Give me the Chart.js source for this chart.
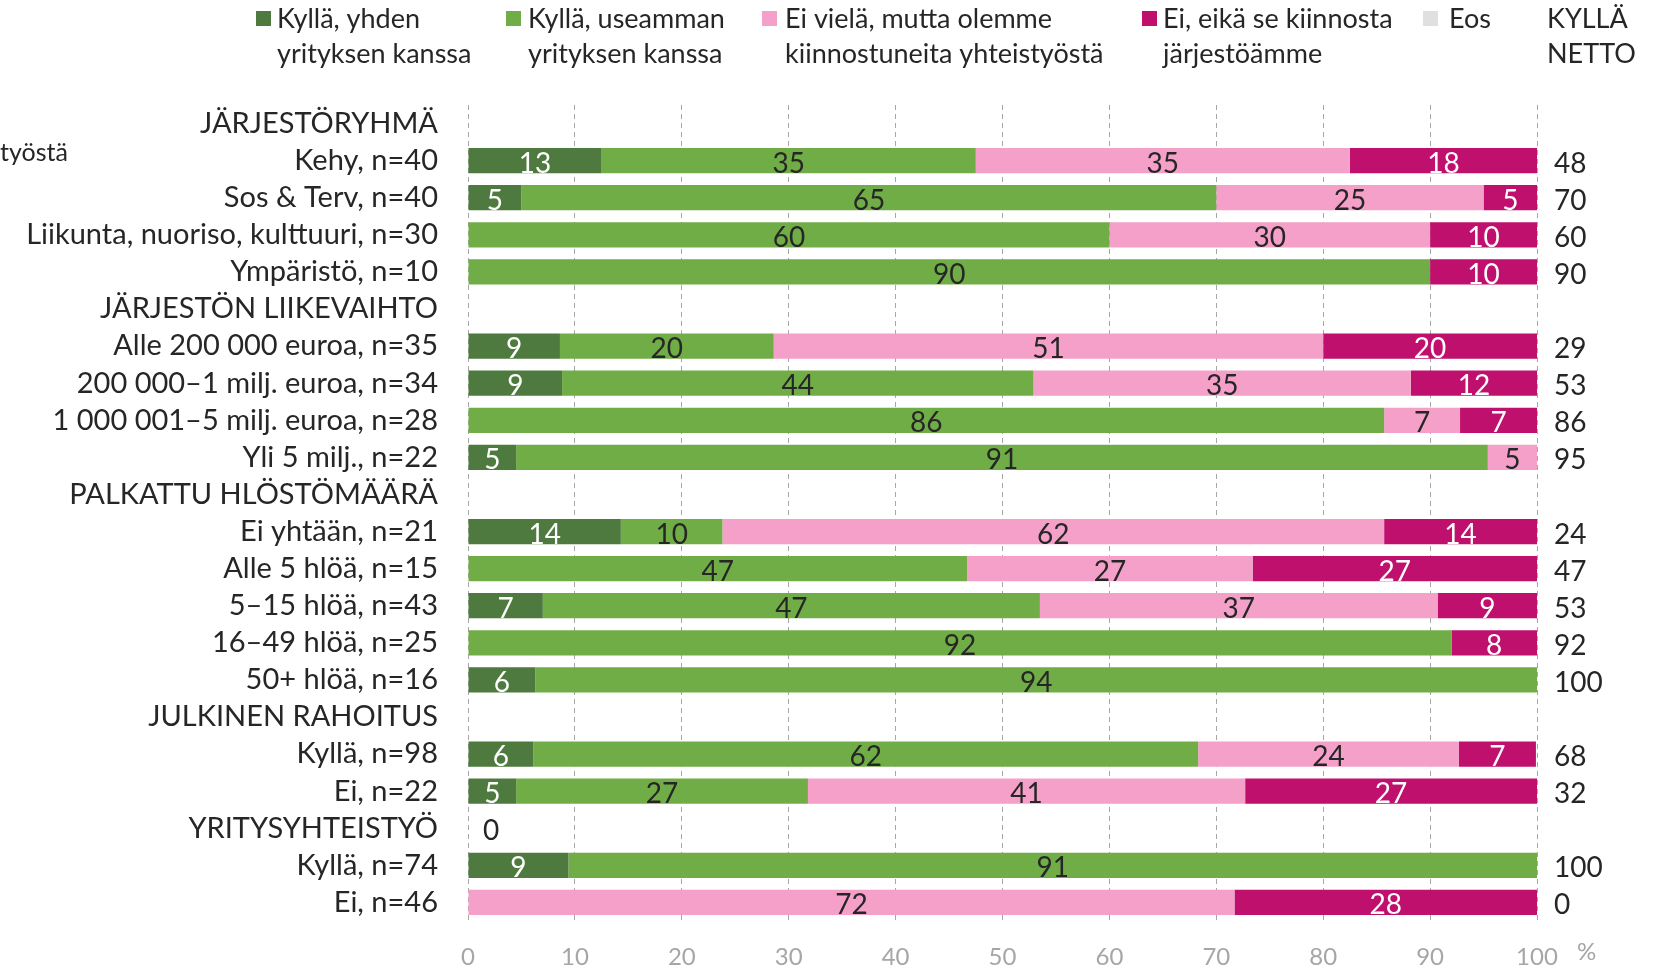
<!DOCTYPE html>
<html>
<head>
<meta charset="utf-8">
<script src="https://cdn.jsdelivr.net/npm/chart.js@4.4.1/dist/chart.umd.min.js"></script>
<style>
  html, body { margin: 0; padding: 0; background: #fff; }
  #wrap { width: 1653px; height: 970px; }
</style>
</head>
<body>
<div id="wrap"><canvas id="chart" width="1653" height="970"></canvas></div>
<script>
const categories = [
  'JÄRJESTÖRYHMÄ', 'Kehy, n=40', 'Sos & Terv, n=40', 'Liikunta, nuoriso, kulttuuri, n=30', 'Ympäristö, n=10',
  'JÄRJESTÖN LIIKEVAIHTO', 'Alle 200 000 euroa, n=35', '200 000–1 milj. euroa, n=34', '1 000 001–5 milj. euroa, n=28', 'Yli 5 milj., n=22',
  'PALKATTU HLÖSTÖMÄÄRÄ', 'Ei yhtään, n=21', 'Alle 5 hlöä, n=15', '5–15 hlöä, n=43', '16–49 hlöä, n=25', '50+ hlöä, n=16',
  'JULKINEN RAHOITUS', 'Kyllä, n=98', 'Ei, n=22',
  'YRITYSYHTEISTYÖ', 'Kyllä, n=74', 'Ei, n=46'
];
const seriesNames = [
  ['Kyllä, yhden', 'yrityksen kanssa'],
  ['Kyllä, useamman', 'yrityksen kanssa'],
  ['Ei vielä, mutta olemme', 'kiinnostuneita yhteistyöstä'],
  ['Ei, eikä se kiinnosta', 'järjestöämme'],
  ['Eos']
];
const yhden       = [null, 12.5, 5, null, null, null, 8.6, 8.8, null, 4.5, null, 14.3, null, 7.0, null, 6.3, null, 6.1, 4.5, null, 9.4, null];
const useamman    = [null, 35, 65, 60, 90, null, 20, 44.1, 85.7, 90.9, null, 9.5, 46.7, 46.5, 92, 93.7, null, 62.2, 27.3, 0, 90.6, null];
const eiViela     = [null, 35, 25, 30, null, null, 51.4, 35.3, 7.1, 4.6, null, 61.9, 26.7, 37.2, null, null, null, 24.4, 40.9, null, null, 71.7];
const eiKiinnosta = [null, 17.5, 5, 10, 10, null, 20, 11.8, 7.2, null, null, 14.3, 26.6, 9.3, 8, null, null, 7.2, 27.3, null, null, 28.3];
const eos         = [null, null, null, null, null, null, null, null, null, null, null, null, null, null, null, null, null, null, null, null, null, null];
const kyllaNetto  = [null, 48, 70, 60, 90, null, 29, 53, 86, 95, null, 24, 47, 53, 92, 100, null, 68, 32, null, 100, 0];
const xTicks = [0, 10, 20, 30, 40, 50, 60, 70, 80, 90, 100];

const colors = ['#4e7a3f', '#70ad47', '#f4a0c8', '#c0106e', '#e0e0e0'];
const labelColors = ['#ffffff', '#262626', '#262626', '#ffffff', '#262626'];
const FONT = 'Lato';

// segment values, netto column, legend and stray texts
const extrasPlugin = {
  id: 'extras',
  afterDatasetsDraw(chart) {
    const ctx = chart.ctx;
    const xs = chart.scales.x;
    const ys = chart.scales.y;
    ctx.save();
    ctx.font = '28px ' + FONT;
    ctx.textAlign = 'center';
    ctx.textBaseline = 'middle';
    chart.data.datasets.forEach(function (ds, i) {
      const meta = chart.getDatasetMeta(i);
      meta.data.forEach(function (el, idx) {
        const v = ds.data[idx];
        if (v === null || v === undefined) return;
        if (v === 0) {
          ctx.fillStyle = '#262626';
          ctx.fillText('0', xs.getPixelForValue(0) + 23, el.y + 3);
          return;
        }
        ctx.fillStyle = labelColors[i];
        ctx.fillText(String(Math.round(v)), (el.x + el.base) / 2, el.y + 3);
      });
    });

    // KYLLÄ NETTO column
    ctx.textAlign = 'left';
    ctx.fillStyle = '#262626';
    kyllaNetto.forEach(function (v, idx) {
      if (v === null) return;
      ctx.fillText(String(v), 1554, ys.getPixelForValue(idx) + 3);
    });

    // legend
    ctx.font = '27px ' + FONT;
    const legendX = [[256, 277], [506, 528], [762, 785], [1142, 1163], [1423, 1449]];
    seriesNames.forEach(function (lines, i) {
      ctx.fillStyle = colors[i];
      ctx.fillRect(legendX[i][0], 11, 15, 15);
      ctx.fillStyle = '#262626';
      lines.forEach(function (t, j) {
        ctx.fillText(t, legendX[i][1], 19 + j * 35);
      });
    });
    ctx.fillText('KYLLÄ', 1547, 19);
    ctx.fillText('NETTO', 1547, 54);

    // leftover text at left edge
    ctx.font = '25px ' + FONT;
    ctx.fillText('työstä', 0, 153);

    // unit
    ctx.fillStyle = '#a6a6a6';
    ctx.font = '24px ' + FONT;
    ctx.fillText('%', 1577, 952);
    ctx.restore();
  }
};

const datasets = [yhden, useamman, eiViela, eiKiinnosta, eos].map(function (d, i) {
  return {
    label: seriesNames[i].join(' '),
    data: d,
    backgroundColor: colors[i],
    borderWidth: 0,
    barPercentage: 0.68,
    categoryPercentage: 1.0
  };
});

new Chart(document.getElementById('chart'), {
  type: 'bar',
  data: { labels: categories, datasets: datasets },
  options: {
    indexAxis: 'y',
    responsive: false,
    animation: false,
    devicePixelRatio: 1,
    layout: { padding: { top: 105, right: 116, bottom: 0, left: 0 } },
    plugins: {
      legend: { display: false },
      tooltip: { enabled: false }
    },
    scales: {
      x: {
        stacked: true,
        min: 0,
        max: 100,
        afterBuildTicks(axis) { axis.ticks = xTicks.map(function (v) { return { value: v }; }); },
        afterFit(axis) { axis.height = 49; },
        grid: { color: '#a6a6a6', lineWidth: 1, drawTicks: false },
        border: { display: false, dash: [5, 4] },
        ticks: { color: '#a6a6a6', font: { family: FONT, size: 24 }, padding: 22 }
      },
      y: {
        stacked: true,
        afterFit(axis) { axis.width = 468; },
        grid: { display: false },
        border: { display: false },
        ticks: { color: '#262626', font: { family: FONT, size: 29 }, padding: 22, autoSkip: false }
      }
    }
  },
  plugins: [extrasPlugin]
});
</script>
</body>
</html>
